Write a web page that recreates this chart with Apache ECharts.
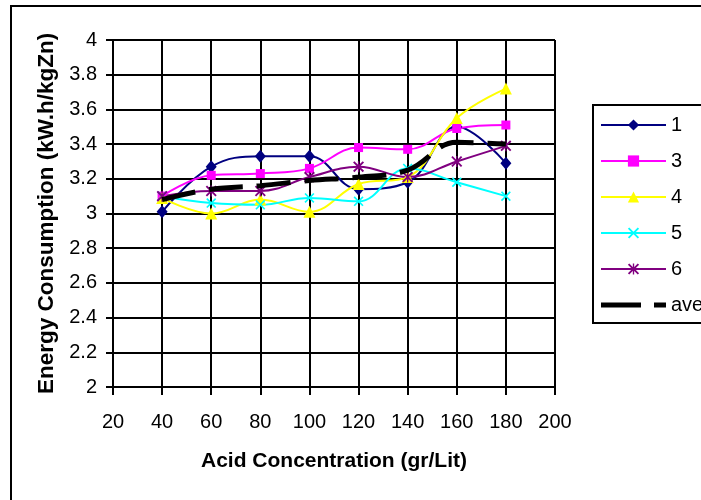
<!DOCTYPE html>
<html>
<head>
<meta charset="utf-8">
<title>Energy Consumption vs Acid Concentration</title>
<script src="https://cdn.jsdelivr.net/npm/echarts@6/dist/echarts.min.js"></script>
<style>
  html, body { margin: 0; padding: 0; background: #fff; }
  #chart { width: 701px; height: 500px; }
</style>
</head>
<body>
<div id="chart"></div>
<script>
// data
const acid = [40, 60, 80, 100, 120, 140, 160, 180]
const run1 = [3.01, 3.27, 3.33, 3.33, 3.14, 3.18, 3.50, 3.29]
const run3 = [3.10, 3.22, 3.23, 3.26, 3.38, 3.37, 3.49, 3.51]
const run4 = [3.09, 3.00, 3.08, 3.01, 3.17, 3.21, 3.55, 3.72]
const run5 = [3.10, 3.06, 3.05, 3.09, 3.07, 3.26, 3.18, 3.10]
const run6 = [3.10, 3.13, 3.13, 3.21, 3.27, 3.21, 3.30, 3.39]
const ave  = [3.08, 3.14, 3.16, 3.19, 3.21, 3.25, 3.41, 3.40]

const font = 'Arial, "Liberation Sans", sans-serif'

// x and asterisk markers as filled paths
const xMark = 'path://M0,1.2L1.2,0L5,3.8L8.8,0L10,1.2L6.2,5L10,8.8L8.8,10L5,6.2L1.2,10L0,8.8L3.8,5Z'
const starMark = xMark + 'M4.4,0L5.6,0L5.6,10L4.4,10Z'
// legend icon for the average: long dash, gap, short dash (corner dots keep the box 65x14)
const aveIcon = 'path://M0,0h0.05v0.05h-0.05Z M65,14h-0.05v-0.05h0.05Z' +
  'M0,4.5H40V9.5H0Z M53,4.5H65V9.5H53Z'

function pairs(ys) {
  return acid.map((x, i) => [x, ys[i]])
}

function lineSeries(name, ys, color, symbol, size) {
  return {
    name: name,
    type: 'line',
    data: pairs(ys),
    smooth: 0.4,
    symbol: symbol,
    symbolSize: size,
    lineStyle: { color: color, width: 2 },
    itemStyle: { color: color },
    z: 3
  }
}

const chart = echarts.init(document.getElementById('chart'))

const option = {
  backgroundColor: '#fff',
  animation: false,
  textStyle: { fontFamily: font },
  grid: {
    left: 113,
    top: 40,
    right: 146,
    bottom: 113,
    containLabel: false
  },
  legend: {
    orient: 'vertical',
    left: 600,
    top: 115,
    padding: 0,
    itemWidth: 65,
    itemHeight: 14,
    itemGap: 16,
    textStyle: { fontSize: 20, color: '#000', fontFamily: font },
    data: ['1', '3', '4', '5', '6', { name: 'ave', icon: aveIcon }]
  },
  graphic: [
    {
      // outer chart frame (runs off the picture to the right and bottom)
      type: 'rect',
      shape: { x: 11, y: 6, width: 900, height: 700 },
      style: { fill: 'none', stroke: '#000', lineWidth: 2 },
      silent: true
    },
    {
      // legend frame
      type: 'rect',
      shape: { x: 593, y: 105, width: 300, height: 218 },
      style: { fill: 'none', stroke: '#000', lineWidth: 2 },
      silent: true
    }
  ],
  xAxis: {
    type: 'value',
    min: 20,
    max: 200,
    interval: 20,
    name: 'Acid Concentration (gr/Lit)',
    nameLocation: 'middle',
    nameGap: 64,
    nameTextStyle: { fontSize: 21, fontWeight: 'bold', color: '#000', fontFamily: font },
    axisLine: { lineStyle: { color: '#000', width: 2 } },
    axisTick: { show: true, length: 8, lineStyle: { color: '#000', width: 2 } },
    axisLabel: { fontSize: 20, color: '#000', margin: 25, fontFamily: font },
    splitLine: { show: true, lineStyle: { color: '#000', width: 2 } }
  },
  yAxis: {
    type: 'value',
    min: 2,
    max: 4,
    interval: 0.2,
    name: 'Energy Consumption (kW.h/kgZn)',
    nameLocation: 'middle',
    nameGap: 55,
    nameTextStyle: { fontSize: 22.5, fontWeight: 'bold', color: '#000', fontFamily: font },
    axisLine: { show: true, lineStyle: { color: '#000', width: 2 } },
    axisTick: { show: true, length: 7, lineStyle: { color: '#000', width: 2 } },
    axisLabel: { fontSize: 20, color: '#000', margin: 16, fontFamily: font },
    splitLine: { show: true, lineStyle: { color: '#000', width: 2 } }
  },
  series: [
    lineSeries('1', run1, '#000080', 'diamond', [11, 13]),
    lineSeries('3', run3, '#ff00ff', 'rect', 9),
    lineSeries('4', run4, '#ffff00', 'triangle', 12),
    lineSeries('5', run5, '#00ffff', xMark, 10),
    lineSeries('6', run6, '#800080', starMark, 11),
    {
      name: 'ave',
      type: 'line',
      data: pairs(ave),
      smooth: 0.4,
      symbol: 'none',
      lineStyle: { color: '#000', width: 5, type: [34, 14] },
      itemStyle: { color: '#000' },
      z: 4
    }
  ]
}

chart.setOption(option)
</script>
</body>
</html>
